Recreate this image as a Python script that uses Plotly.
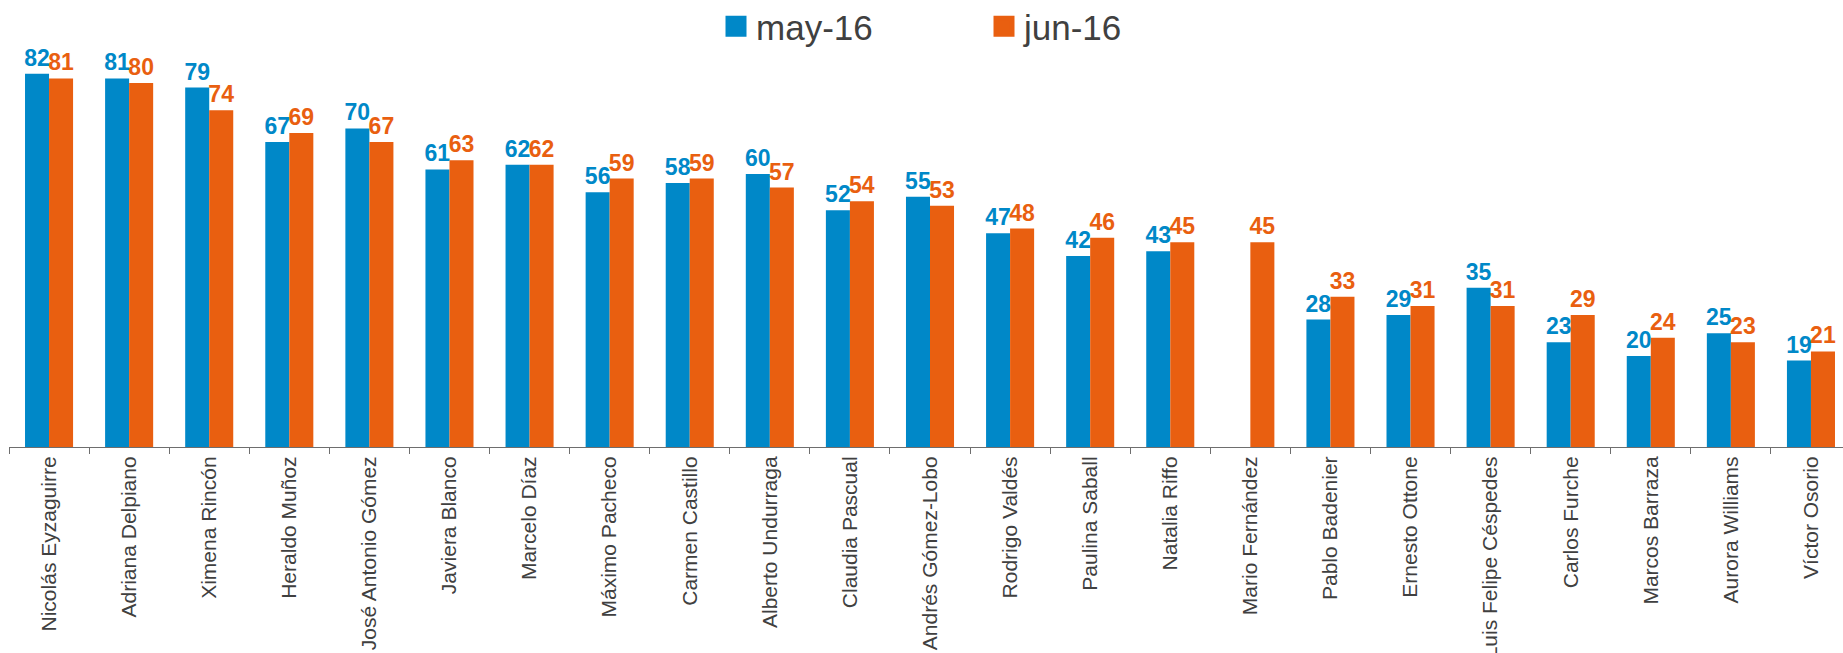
import plotly.graph_objects as go

names = ["Nicolás Eyzaguirre", "Adriana Delpiano", "Ximena Rincón", "Heraldo Muñoz",
         "José Antonio Gómez", "Javiera Blanco", "Marcelo Díaz", "Máximo Pacheco",
         "Carmen Castillo", "Alberto Undurraga", "Claudia Pascual", "Andrés Gómez-Lobo",
         "Rodrigo Valdés", "Paulina Saball", "Natalia Riffo", "Mario Fernández",
         "Pablo Badenier", "Ernesto Ottone", "Luis Felipe Céspedes", "Carlos Furche",
         "Marcos Barraza", "Aurora Williams", "Víctor Osorio"]
may16 = [82, 81, 79, 67, 70, 61, 62, 56, 58, 60, 52, 55, 47, 42, 43, None, 28, 29, 35, 23, 20, 25, 19]
jun16 = [81, 80, 74, 69, 67, 63, 62, 59, 59, 57, 54, 53, 48, 46, 45, 45, 33, 31, 31, 29, 24, 23, 21]
series_names = ["may-16", "jun-16"]
colors = ["#0088C8", "#E95F10"]

FONT = "Liberation Sans, Arial, sans-serif"

fig = go.Figure()
for sname, vals, col in zip(series_names, [may16, jun16], colors):
    fig.add_trace(go.Bar(
        x=names, y=vals, name=sname, legendgroup=sname, showlegend=False,
        marker=dict(color=col, line=dict(width=0)),
        text=["" if v is None else f"<b>{v}</b>" for v in vals],
        textposition="outside", constraintext="none", cliponaxis=False,
        textfont=dict(family=FONT, size=23, color=col),
        hoverinfo="x+y",
    ))
# legend entries (square swatches)
for sname, col in zip(series_names, colors):
    fig.add_trace(go.Scatter(
        x=[None], y=[None], mode="markers", name=sname, legendgroup=sname, showlegend=True,
        marker=dict(symbol="square", size=16, color=col, line=dict(width=5, color=col)),
        hoverinfo="skip",
    ))

fig.update_layout(
    width=1843, height=653,
    margin=dict(l=9, r=0, t=37, b=206, pad=0, autoexpand=False),
    plot_bgcolor="white", paper_bgcolor="white",
    barmode="group", bargap=0.4, bargroupgap=0,
    font=dict(family=FONT, color="#404040"),
    showlegend=True,
    legend=dict(orientation="h", x=0.3855, xanchor="left", y=1.0256, yanchor="middle",
                font=dict(family=FONT, size=35, color="#404040"),
                entrywidth=223, entrywidthmode="pixels",
                bgcolor="rgba(0,0,0,0)", borderwidth=0),
    xaxis=dict(showline=True, linecolor="#6e6e6e", linewidth=1,
               ticks="outside", tickson="boundaries", ticklen=6, tickcolor="#6e6e6e",
               tickangle=-90, tickfont=dict(family=FONT, size=21, color="#404040"),
               range=[-0.5, 22.4], automargin=False, showgrid=False, zeroline=False),
    yaxis=dict(range=[0, 90.1], visible=False, showgrid=False, zeroline=False),
)

fig.write_html("out.html", config={"displayModeBar": False},
               post_script="document.body.style.margin='0';document.body.style.overflow='hidden';")
